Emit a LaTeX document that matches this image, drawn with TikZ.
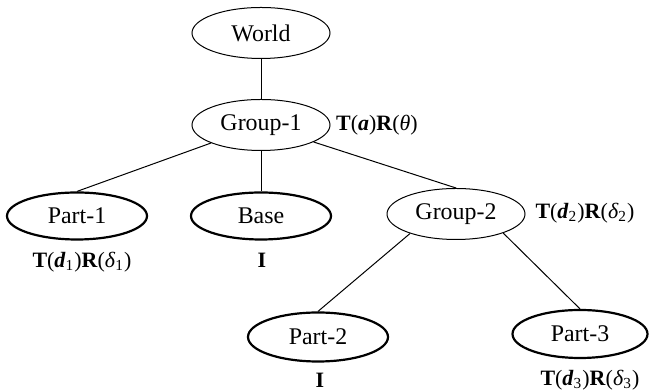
\documentclass[tikz,border=0pt]{standalone}
\usepackage{fontspec}
\setmainfont{Liberation Serif}
\usetikzlibrary{shapes.geometric}
\newcommand{\xf}[2]{\textbf{T}(\textbf{\textit{#1}})\textbf{R}(\textit{#2})}
\newcommand{\xfs}[2]{\textbf{T}(\textbf{\textit{d}}\textsubscript{#1})\textbf{R}(\textit{δ}\textsubscript{#2})}
\begin{document}
\begin{tikzpicture}[x=0.5bp,y=-0.5bp,
  grp/.style={ellipse,draw,line width=0.5bp,inner sep=0pt,minimum width=69bp,minimum height=25.5bp,font=\fontsize{12}{14}\selectfont},
  leaf/.style={ellipse,draw,line width=1.1bp,inner sep=0pt,minimum width=70bp,minimum height=23.5bp,font=\fontsize{12}{14}\selectfont},
  xlab/.style={inner sep=0pt,font=\fontsize{11}{13}\selectfont},
  edge/.style={line width=0.5bp}]
\useasboundingbox (0,0) rectangle (651,390);
% scene-graph nodes
\node[grp]  (w)  at (261,33)  {World};
\node[grp]  (g1) at (261,125) {Group-1};
\node[leaf] (p1) at (77,216)  {Part-1};
\node[leaf] (b)  at (261,216) {Base};
\node[grp]  (g2) at (456,214) {Group-2};
\node[leaf,minimum height=24.5bp] (p2) at (318,337) {Part-2};
\node[leaf,minimum width=67.5bp,minimum height=24bp] (p3) at (580,334) {Part-3};
% transformation labels
\node[xlab] (l1) at (377,125) {\xf{a}{θ}};
\node[xlab] (l2) at (82,262)  {\xfs{1}{1}};
\node[xlab] (l3) at (262,260) {\textbf{I}};
\node[xlab] (l4) at (585,213) {\xfs{2}{2}};
\node[xlab] (l5) at (320,380) {\textbf{I}};
\node[xlab] (l6) at (590,380) {\xfs{3}{3}};
% tree edges
\draw[edge] (w.south) -- (g1.north);
\draw[edge] (g1) -- (p1.north);
\draw[edge] (g1.south) -- (b.north);
\draw[edge] (g1) -- (g2.north);
\draw[edge] (g2.203) -- (p2.north);
\draw[edge] (g2.338) -- (p3.north);
\end{tikzpicture}
\end{document}
